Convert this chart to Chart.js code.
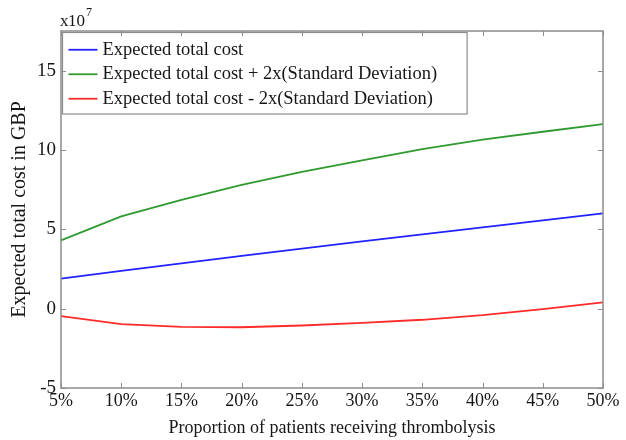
<!DOCTYPE html>
<html>
<head>
<meta charset="utf-8">
<script src="https://cdn.jsdelivr.net/npm/chart.js@4/dist/chart.umd.min.js"></script>
<style>
  html, body { margin: 0; padding: 0; background: #fff; }
  #wrap { width: 626px; height: 440px; }
</style>
</head>
<body>
<div id="wrap"><canvas id="c" width="626" height="440"></canvas></div>
<script>
// Proportion of patients receiving thrombolysis
const categories = ['5%', '10%', '15%', '20%', '25%', '30%', '35%', '40%', '45%', '50%'];

// Costs in units of 10^7 GBP
const expectedCost = [1.90, 2.38, 2.86, 3.33, 3.79, 4.24, 4.68, 5.12, 5.56, 6.00];
const upperBound   = [4.30, 5.82, 6.85, 7.80, 8.62, 9.35, 10.05, 10.65, 11.15, 11.63];
const lowerBound   = [-0.47, -0.98, -1.15, -1.17, -1.06, -0.90, -0.70, -0.41, -0.03, 0.40];

const seriesNames = [
  'Expected total cost',
  'Expected total cost + 2x(Standard Deviation)',
  'Expected total cost - 2x(Standard Deviation)'
];
const yTicks = [-5, 0, 5, 10, 15];
const yMin = -5, yMax = 17.5;

const SERIF = '"Liberation Serif", "Times New Roman", serif';
const AXIS_GREY = '#8c8c8c';
const TEXT = '#161616';

// Frame around the plot with inward tick marks on all four sides, plus the exponent label
const framePlugin = {
  id: 'frame',
  afterDraw(chart) {
    const { ctx, chartArea: { left, right, top, bottom }, scales: { x, y } } = chart;
    ctx.save();
    ctx.strokeStyle = AXIS_GREY;
    ctx.lineWidth = 1.5;
    ctx.strokeRect(left, top, right - left, bottom - top);
    ctx.lineWidth = 1;
    const tl = 5;
    ctx.beginPath();
    x.ticks.forEach((t, i) => {
      const px = Math.round(x.getPixelForTick(i)) + 0.5;
      ctx.moveTo(px, bottom); ctx.lineTo(px, bottom - tl);
      ctx.moveTo(px, top); ctx.lineTo(px, top + tl);
    });
    y.ticks.forEach((t, i) => {
      const py = Math.round(y.getPixelForTick(i)) + 0.5;
      ctx.moveTo(left, py); ctx.lineTo(left + tl, py);
      ctx.moveTo(right, py); ctx.lineTo(right - tl, py);
    });
    ctx.stroke();

    // exponent label
    ctx.fillStyle = TEXT;
    ctx.textBaseline = 'alphabetic';
    ctx.textAlign = 'left';
    ctx.font = '17px ' + SERIF;
    ctx.fillText('x', left - 1, top - 5);
    ctx.fillText('10', left + 7, top - 5);
    const w = ctx.measureText('10').width;
    ctx.font = '12px ' + SERIF;
    ctx.fillText('7', left + 8 + w, top - 15);
    ctx.restore();
  }
};

// Boxed legend in the upper-left corner of the plot
const legendBoxPlugin = {
  id: 'legendBox',
  afterDatasetsDraw(chart) {
    const { ctx, chartArea: { left, top } } = chart;
    const ds = chart.data.datasets;
    ctx.save();
    ctx.font = '18.5px ' + SERIF;
    const maxW = Math.max(...ds.map(d => ctx.measureText(d.label).width));
    const bx = left + 1.5, by = top + 1.5;
    const padL = 6, lineLen = 29, gap = 5, padR = 30;
    const rowH = 24.5, padT = 3;
    const bw = padL + lineLen + gap + maxW + padR;
    const bh = padT * 2 + rowH * ds.length + 2;
    ctx.fillStyle = '#fff';
    ctx.fillRect(bx, by, bw, bh);
    ctx.strokeStyle = AXIS_GREY;
    ctx.lineWidth = 1.2;
    ctx.strokeRect(bx, by, bw, bh);
    ds.forEach((d, i) => {
      const cy = by + padT + rowH * i + rowH / 2 + 2;
      ctx.strokeStyle = d.borderColor;
      ctx.lineWidth = 1.8;
      ctx.beginPath();
      ctx.moveTo(bx + padL, cy);
      ctx.lineTo(bx + padL + lineLen, cy);
      ctx.stroke();
      ctx.fillStyle = TEXT;
      ctx.textBaseline = 'middle';
      ctx.textAlign = 'left';
      ctx.fillText(d.label, bx + padL + lineLen + gap, cy);
    });
    ctx.restore();
  }
};

const lineStyle = { borderWidth: 1.8, pointRadius: 0, tension: 0, fill: false };

new Chart(document.getElementById('c'), {
  type: 'line',
  data: {
    labels: categories,
    datasets: [
      { label: seriesNames[0], data: expectedCost, borderColor: '#2222ff', ...lineStyle },
      { label: seriesNames[1], data: upperBound,   borderColor: '#2f9a2f', ...lineStyle },
      { label: seriesNames[2], data: lowerBound,   borderColor: '#ff2a2a', ...lineStyle }
    ]
  },
  options: {
    responsive: false,
    animation: false,
    layout: { padding: { top: 31, right: 23, bottom: 0, left: 0 } },
    plugins: { legend: { display: false }, tooltip: { enabled: false } },
    scales: {
      x: {
        type: 'category',
        offset: false,
        border: { display: false },
        grid: { display: false, drawTicks: false },
        ticks: {
          color: TEXT, padding: 2, maxRotation: 0, autoSkip: false,
          font: { family: SERIF, size: 18 }
        },
        title: {
          display: true, text: 'Proportion of patients receiving thrombolysis',
          color: TEXT, font: { family: SERIF, size: 18 }, padding: { top: 0, bottom: 1 }
        },
        afterFit(scale) { scale.height = 52; }
      },
      y: {
        min: yMin, max: yMax,
        border: { display: false },
        grid: { display: false, drawTicks: false },
        afterBuildTicks(scale) { scale.ticks = yTicks.map(v => ({ value: v })); },
        ticks: {
          color: TEXT, padding: 5,
          font: { family: SERIF, size: 19 }
        },
        title: {
          display: true, text: 'Expected total cost in GBP',
          color: TEXT, font: { family: SERIF, size: 20 }, padding: { top: 8, bottom: 0 }
        },
        afterFit(scale) { scale.width = 61; }
      }
    }
  },
  plugins: [framePlugin, legendBoxPlugin]
});
</script>
</body>
</html>
